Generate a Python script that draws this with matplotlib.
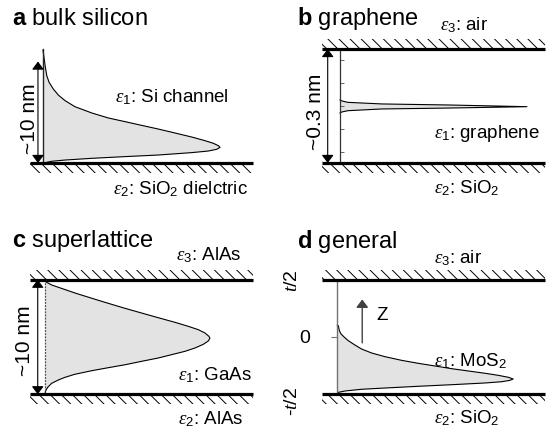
import matplotlib
matplotlib.use("Agg")
import matplotlib.pyplot as plt
from matplotlib.patches import Rectangle
from matplotlib.markers import TICKRIGHT, TICKLEFT

plt.rcParams['font.family'] = ['Liberation Sans', 'DejaVu Sans']
plt.rcParams['mathtext.fontset'] = 'custom'
plt.rcParams['mathtext.rm'] = 'Liberation Sans'
plt.rcParams['mathtext.it'] = 'Liberation Serif:italic'
plt.rcParams['mathtext.bf'] = 'Liberation Sans:bold'
plt.rcParams['hatch.linewidth'] = 0.7

# charge profiles: amplitude (fraction of the layer line) vs z (0 = bottom, 1 = top)
a_z = [0.99, 0.854, 0.766, 0.708, 0.649, 0.596, 0.547, 0.494, 0.439, 0.395,
       0.363, 0.330, 0.298, 0.263, 0.228, 0.196, 0.173, 0.152, 0.137, 0.120,
       0.105, 0.091, 0.070, 0.056, 0.041, 0.026, 0.015, 0.003, 0.0]
a_amp = [0.0, 0.010, 0.018, 0.029, 0.049, 0.073, 0.105, 0.152, 0.232, 0.311,
         0.390, 0.470, 0.549, 0.629, 0.708, 0.771, 0.811, 0.835, 0.843, 0.827,
         0.787, 0.708, 0.549, 0.390, 0.232, 0.105, 0.041, 0.010, 0.0]

b_z = [0.553, 0.544, 0.532, 0.518, 0.509, 0.494, 0.482, 0.474, 0.459, 0.448, 0.439]
b_amp = [0.0, 0.010, 0.039, 0.205, 0.527, 0.912, 0.527, 0.205, 0.039, 0.010, 0.0]
b_ticks = [0.1, 0.3, 0.5, 0.7, 0.9]

c_z = [0.995, 0.983, 0.954, 0.934, 0.884, 0.838, 0.794, 0.750, 0.709, 0.668,
       0.628, 0.593, 0.564, 0.535, 0.506, 0.489, 0.465, 0.436, 0.404, 0.375,
       0.346, 0.317, 0.288, 0.258, 0.232, 0.206, 0.175, 0.148, 0.125, 0.096,
       0.061, 0.031, 0.005]
c_amp = [0.0, 0.003, 0.032, 0.064, 0.144, 0.225, 0.304, 0.385, 0.465, 0.545,
         0.625, 0.689, 0.737, 0.769, 0.788, 0.793, 0.785, 0.761, 0.721, 0.673,
         0.609, 0.545, 0.465, 0.385, 0.304, 0.225, 0.144, 0.096, 0.064, 0.032,
         0.013, 0.003, 0.0]

d_z = [0.605, 0.600, 0.556, 0.528, 0.499, 0.469, 0.431, 0.396, 0.361, 0.329,
       0.297, 0.271, 0.248, 0.224, 0.204, 0.184, 0.166, 0.149, 0.134, 0.122,
       0.110, 0.099, 0.084, 0.070, 0.055, 0.044, 0.029, 0.017, 0.0]
d_amp = [0.0, 0.005, 0.010, 0.018, 0.034, 0.053, 0.085, 0.117, 0.166, 0.230,
         0.310, 0.390, 0.470, 0.551, 0.631, 0.711, 0.775, 0.823, 0.847, 0.831,
         0.792, 0.711, 0.551, 0.390, 0.230, 0.117, 0.037, 0.005, 0.0]
d_ticklabels = ['-$t$/2', '0', '$t$/2']

W, H = 554, 435
fig = plt.figure(figsize=(W / 100, H / 100), dpi=100)

FILL = '#e3e3e3'
BIG = 17
MID = 13.5
ROT = 15


def make_ax(box, vx, ex, ty, by):
    # box in pixels (x0, x1, y0, y1), vx: vertical line, ex: line end, ty/by: top/bottom line
    x0, x1, y0, y1 = box
    ax = fig.add_axes([x0 / W, 1 - y1 / H, (x1 - x0) / W, (y1 - y0) / H])
    sx = ex - vx
    sz = by - ty
    ax.set_xlim((x0 - vx) / sx, (x1 - vx) / sx)
    ax.set_ylim((by - y1) / sz, (by - y0) / sz)
    ax.axis('off')
    return ax


def layer(ax, xl, z, side):
    band = 0.085
    ax.plot([xl, 1], [z, z], color='k', lw=2.3, solid_capstyle='butt', zorder=4)
    zb = z if side > 0 else z - band
    ax.add_patch(Rectangle((xl, zb), 1 - xl, band, facecolor='none', edgecolor='k',
                           lw=0, hatch='\\\\\\', zorder=1))


def profile(ax, z, amp):
    ax.fill_betweenx(z, 0, amp, facecolor=FILL, edgecolor='none', zorder=2)
    ax.plot(amp, z, color='k', lw=0.8, zorder=3)


def dim_arrow(ax, x, z0, z1):
    ax.annotate('', xy=(x, z1), xytext=(x, z0),
                arrowprops=dict(arrowstyle='<|-|>,head_width=0.3', color='k', lw=0.8,
                                mutation_scale=12, shrinkA=0, shrinkB=0))


# a bulk silicon
ax = make_ax((0, 277, 0, 218), 43, 253, 50, 164)
layer(ax, -0.062, 0, -1)
profile(ax, a_z, a_amp)
ax.plot([0, 0], [0, 1], color='0.15', lw=1.0, zorder=3)
dim_arrow(ax, -0.024, 0.0, 0.89)
ax.text(-0.066, 0.40, '~10 nm', rotation=90, ha='center', va='center', fontsize=ROT)
ax.text(-0.148, 1.22, r'$\mathbf{a}$ bulk silicon', fontsize=BIG, va='baseline')
ax.text(0.345, 0.59, r'$\varepsilon_1$: Si channel', fontsize=MID, va='center')
ax.text(0.335, -0.22, r'$\varepsilon_2$: SiO$_2$ dielctric', fontsize=MID, va='center')

# b graphene
ax = make_ax((277, 554, 0, 218), 340, 545, 50, 164)
layer(ax, -0.088, 0, -1)
layer(ax, -0.088, 1, 1)
profile(ax, b_z, b_amp)
ax.plot([0, 0], [0, 1], color='0.2', lw=0.9, zorder=3)
ax.plot([0] * len(b_ticks), b_ticks, ls='none', marker=TICKRIGHT, ms=3, mew=0.6, color='0.3')
dim_arrow(ax, -0.060, 0.0, 1.0)
ax.text(-0.120, 0.46, '~0.3 nm', rotation=90, ha='center', va='center', fontsize=ROT)
ax.text(-0.210, 1.22, r'$\mathbf{b}$ graphene', fontsize=BIG, va='baseline')
ax.text(0.488, 1.22, r'$\varepsilon_3$: air', fontsize=MID, va='center')
ax.text(0.459, 0.27, r'$\varepsilon_1$: graphene', fontsize=MID, va='center')
ax.text(0.459, -0.21, r'$\varepsilon_2$: SiO$_2$', fontsize=MID, va='center')

# c superlattice
ax = make_ax((0, 277, 218, 435), 45, 253, 280.7, 395.3)
layer(ax, -0.072, 0, -1)
layer(ax, -0.072, 1, 1)
profile(ax, c_z, c_amp)
ax.plot([0, 0], [0, 1], color='0.3', lw=0.9, ls=(0, (1.5, 1)), zorder=3)
dim_arrow(ax, -0.035, 0.0, 1.0)
ax.text(-0.10, 0.48, '~10 nm', rotation=90, ha='center', va='center', fontsize=ROT)
ax.text(-0.159, 1.29, r'$\mathbf{c}$ superlattice', fontsize=BIG, va='baseline')
ax.text(0.63, 1.22, r'$\varepsilon_3$: AlAs', fontsize=MID, va='center')
ax.text(0.64, 0.18, r'$\varepsilon_1$: GaAs', fontsize=MID, va='center')
ax.text(0.64, -0.21, r'$\varepsilon_2$: AlAs', fontsize=MID, va='center')

# d general
ax = make_ax((277, 554, 218, 435), 337.3, 545, 281, 395.3)
layer(ax, -0.074, 0, -1)
layer(ax, -0.074, 1, 1)
profile(ax, d_z, d_amp)
ax.plot([0, 0], [0, 1], color='0.45', lw=1.0, zorder=3)
ax.plot([0], [0.5], ls='none', marker=TICKLEFT, ms=4, mew=0.8, color='0.45')
ax.annotate('', xy=(0.12, 0.83), xytext=(0.12, 0.45),
            arrowprops=dict(arrowstyle='-|>,head_width=0.3', color='0.25', lw=1.0,
                            mutation_scale=12, shrinkA=0, shrinkB=0))
ax.text(0.19, 0.70, 'Z', fontsize=MID, va='center')
ax.text(-0.218, -0.05, d_ticklabels[0], rotation=90, ha='center', va='center', fontsize=14)
ax.text(-0.156, 0.5, d_ticklabels[1], ha='center', va='center', fontsize=14)
ax.text(-0.218, 1.0, d_ticklabels[2], rotation=90, ha='center', va='center', fontsize=14)
ax.text(-0.194, 1.29, r'$\mathbf{d}$ general', fontsize=BIG, va='baseline')
ax.text(0.466, 1.20, r'$\varepsilon_3$: air', fontsize=MID, va='center')
ax.text(0.466, 0.30, r'$\varepsilon_1$: MoS$_2$', fontsize=MID, va='center')
ax.text(0.466, -0.20, r'$\varepsilon_2$: SiO$_2$', fontsize=MID, va='center')

fig.savefig('out.png', dpi=100)
